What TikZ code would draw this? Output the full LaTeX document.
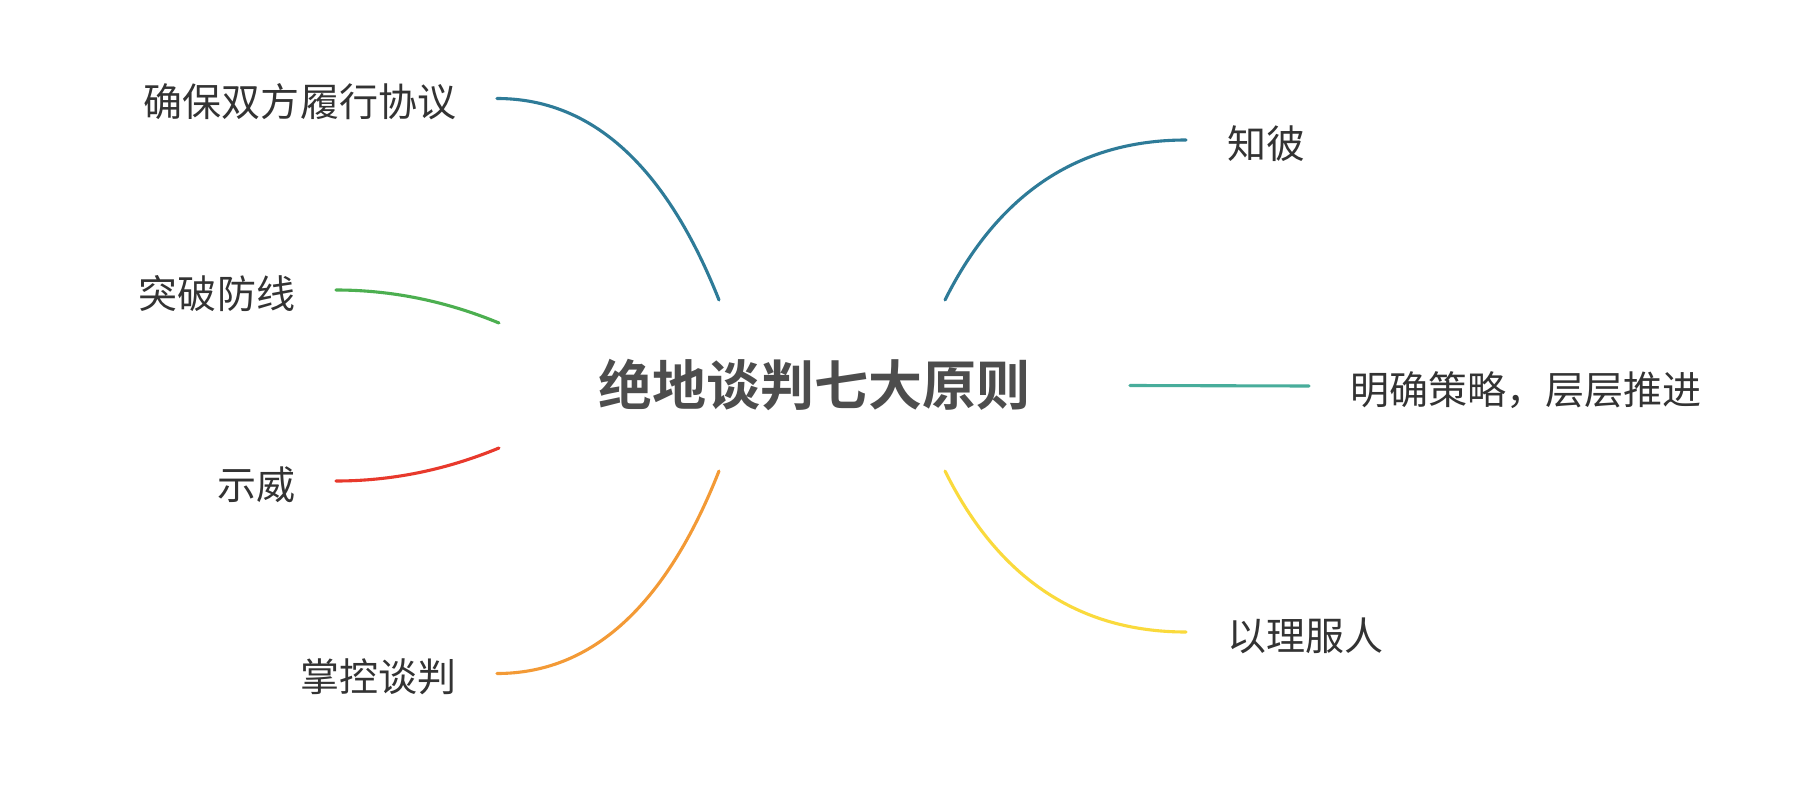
\documentclass[tikz,border=0pt]{standalone}
\usepackage{fontspec}
\newfontfamily\cjk{Noto Sans CJK SC}[BoldFont={Noto Sans CJK SC Bold}]
\usetikzlibrary{calc}
\definecolor{cblue}{HTML}{2E7B98}
\definecolor{cgreen}{HTML}{4CAF50}
\definecolor{cred}{HTML}{E8392C}
\definecolor{corange}{HTML}{F39A36}
\definecolor{cyellow}{HTML}{FADA3C}
\definecolor{cteal}{HTML}{48AD9B}
\definecolor{ctext}{HTML}{333333}
\definecolor{ctitle}{HTML}{4D4D4D}
\begin{document}
\begin{tikzpicture}[x=1bp,y=-1bp,
  leaf/.style={inner sep=0pt,outer sep=0pt,text=ctext,font=\cjk\fontsize{39bp}{46bp}\selectfont},
  lleaf/.style={leaf,anchor=base east},
  rleaf/.style={leaf,anchor=base west},
  branch/.style={line width=3.1bp,line cap=round}]
\path[fill=white] (0,0) rectangle (1796,804);
\useasboundingbox (0,0) rectangle (1796,804);

\node[minimum width=631bp,minimum height=171bp,inner sep=0pt,outer sep=0pt,
      text=ctitle,font=\cjk\bfseries\fontsize{54bp}{62bp}\selectfont] (root) at (814.5,385.5) {绝地谈判七大原则};

\node[lleaf] (c1) at (456,116.5) {确保双方履行协议};
\node[lleaf] (c2) at (295,308) {突破防线};
\node[lleaf] (c3) at (295,499) {示威};
\node[lleaf] (c4) at (456,691.5) {掌控谈判};
\node[rleaf] (c5) at (1227,158) {知彼};
\node[rleaf] (c6) at (1350,404) {明确策略，层层推进};
\node[rleaf] (c7) at (1227,650) {以理服人};

% root ends
\coordinate (r1) at ([xshift=-95.5bp]root.north);
\coordinate (r2) at ([yshift=-23bp]root.north west);
\coordinate (r3) at ([yshift=23bp]root.south west);
\coordinate (r4) at ([xshift=-95.5bp]root.south);
\coordinate (r5) at ([xshift=130.5bp]root.north);
\coordinate (r6) at (root.east);
\coordinate (r7) at ([xshift=130.5bp]root.south);
% leaf ends
\coordinate (k1) at ([xshift=41bp,yshift=18bp]c1.base east);
\coordinate (k2) at ([xshift=41bp,yshift=18bp]c2.base east);
\coordinate (k3) at ([xshift=41bp,yshift=18bp]c3.base east);
\coordinate (k4) at ([xshift=41bp,yshift=18bp]c4.base east);
\coordinate (k5) at ([xshift=-41bp,yshift=18bp]c5.base west);
\coordinate (k6) at ([xshift=-41bp,yshift=18bp]c6.base west);
\coordinate (k7) at ([xshift=-41bp,yshift=18bp]c7.base west);
% quadratic control points
\coordinate (q1) at ([xshift=-80bp]r1 |- k1);
\coordinate (q2) at ([xshift=-80bp]r2 |- k2);
\coordinate (q3) at ([xshift=-80bp]r3 |- k3);
\coordinate (q4) at ([xshift=-80bp]r4 |- k4);
\coordinate (q5) at ([xshift=80bp]r5 |- k5);
\coordinate (q7) at ([xshift=80bp]r7 |- k7);

\draw[branch,cblue]   (r1) .. controls ($(r1)!2/3!(q1)$) and ($(k1)!2/3!(q1)$) .. (k1);
\draw[branch,cgreen]  (r2) .. controls ($(r2)!2/3!(q2)$) and ($(k2)!2/3!(q2)$) .. (k2);
\draw[branch,cred]    (r3) .. controls ($(r3)!2/3!(q3)$) and ($(k3)!2/3!(q3)$) .. (k3);
\draw[branch,corange] (r4) .. controls ($(r4)!2/3!(q4)$) and ($(k4)!2/3!(q4)$) .. (k4);
\draw[branch,cblue]   (r5) .. controls ($(r5)!2/3!(q5)$) and ($(k5)!2/3!(q5)$) .. (k5);
\draw[branch,cteal]   (r6) -- (k6);
\draw[branch,cyellow] (r7) .. controls ($(r7)!2/3!(q7)$) and ($(k7)!2/3!(q7)$) .. (k7);
\end{tikzpicture}
\end{document}
